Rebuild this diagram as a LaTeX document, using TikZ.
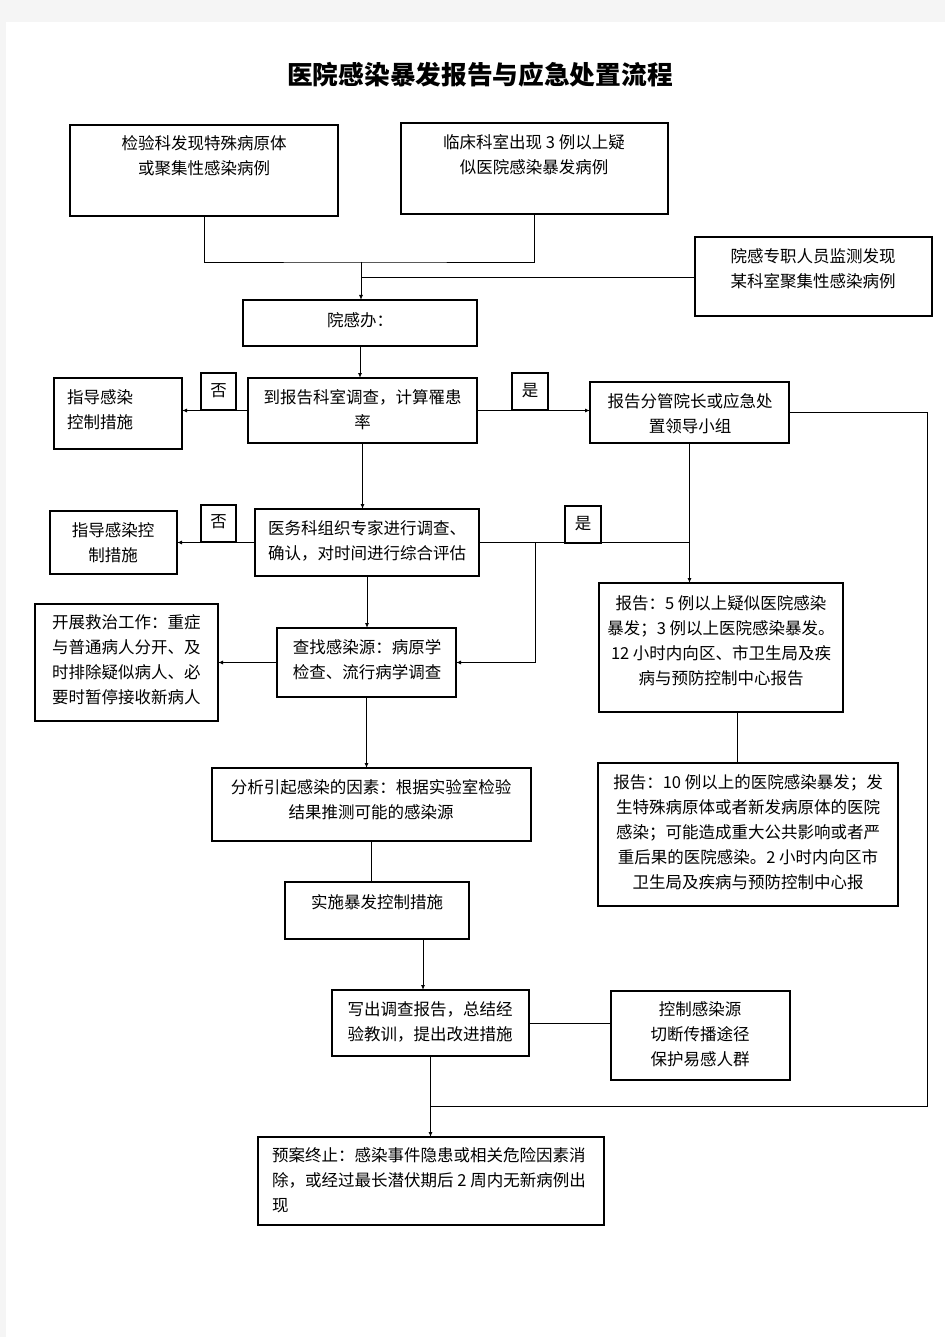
\documentclass[tikz,border=0pt]{standalone}
\usepackage{fontspec}
\setmainfont{Noto Sans CJK SC}
\usetikzlibrary{arrows.meta,fit}
\newcommand\mybox[3]{\node[box, fit={#2 #3}] (#1) {};}
\begin{document}
\begin{tikzpicture}[x=1pt,y=-1pt,
  box/.style={draw, line width=1.5pt, inner sep=0pt, outer sep=0pt},
  txt/.style={font=\fontsize{16.5}{25}\selectfont, inner sep=0pt, align=center},
  ltxt/.style={txt, align=left, anchor=west},
  con/.style={line width=0.9pt},
  arr/.style={con, -{Latex[length=5pt,width=4pt]}}]
\fill[gray!8] (0,0) rectangle (945,1337);
\fill[white] (6,22) rectangle (945,1337);
\useasboundingbox (0,0) rectangle (945,1337);

\node[font=\fontsize{25.7}{30}\selectfont\bfseries, inner sep=0pt] (title) at (480,75) {医院感染暴发报告与应急处置流程};

% boxes
\mybox{A}{(70,125)}{(338,216)}
\mybox{B}{(401,123)}{(668,214)}
\mybox{C}{(695,237)}{(932,316)}
\mybox{D}{(243,300)}{(477,346)}
\mybox{E}{(248,378)}{(477,443)}
\mybox{F}{(54,378)}{(182,449)}
\mybox{no1}{(201,373)}{(236,410)}
\mybox{yes1}{(512,373)}{(548,410)}
\mybox{G}{(590,382)}{(789,443)}
\mybox{H}{(255,509)}{(479,576)}
\mybox{no2}{(201,505)}{(236,542)}
\mybox{yes2}{(565,506)}{(601,543)}
\mybox{I}{(50,511)}{(177,574)}
\mybox{J}{(599,583)}{(843,712)}
\mybox{K}{(277,628)}{(456,697)}
\mybox{L}{(35,604)}{(218,721)}
\mybox{M}{(598,763)}{(898,906)}
\mybox{N}{(212,768)}{(531,841)}
\mybox{O}{(285,882)}{(469,939)}
\mybox{W}{(332,990)}{(529,1056)}
\mybox{X}{(611,991)}{(790,1080)}
\mybox{P}{(258,1137)}{(604,1225)}

% texts
\node[txt] (tA) at (204,155.5) {检验科发现特殊病原体\\或聚集性感染病例};
\node[txt] (tB) at (534,154.5) {临床科室出现 3 例以上疑\\似医院感染暴发病例};
\node[txt] (tC) at (813,268.5) {院感专职人员监测发现\\某科室聚集性感染病例};
\node[txt] (tD) at (360,320) {院感办：};
\node[txt] (tE) at (362.5,409.5) {到报告科室调查，计算罹患\\率};
\node[ltxt] (tF) at (67,409.5) {指导感染\\控制措施};
\node[txt] (tno1) at (218.5,391) {否};
\node[txt] (tyes1) at (530,391) {是};
\node[txt] (tG) at (690,413.5) {报告分管院长或应急处\\置领导小组};
\node[txt] (tH) at (367,541) {医务科组织专家进行调查、\\确认，对时间进行综合评估};
\node[txt] (tno2) at (218.5,522) {否};
\node[txt] (tyes2) at (583,524) {是};
\node[txt] (tI) at (113,542.5) {指导感染控\\制措施};
\node[txt] (tK) at (367,659.5) {查找感染源：病原学\\检查、流行病学调查};
\node[ltxt] (tL) at (52,659.5) {开展救治工作：重症\\与普通病人分开、及\\时排除疑似病人、必\\要时暂停接收新病人};
\node[txt] (tJ) at (721,641) {报告：5 例以上疑似医院感染\\暴发；3 例以上医院感染暴发。\\12 小时内向区、市卫生局及疾\\病与预防控制中心报告};
\node[txt] (tM) at (748,832) {报告：10 例以上的医院感染暴发；发\\生特殊病原体或者新发病原体的医院\\感染；可能造成重大公共影响或者严\\重后果的医院感染。2 小时内向区市\\卫生局及疾病与预防控制中心报};
\node[txt] (tN) at (371,799.5) {分析引起感染的因素：根据实验室检验\\结果推测可能的感染源};
\node[txt] (tO) at (377,902) {实施暴发控制措施};
\node[txt] (tW) at (430,1022) {写出调查报告，总结经\\验教训，提出改进措施};
\node[txt] (tX) at (700,1034.5) {控制感染源\\切断传播途径\\保护易感人群};
\node[ltxt] (tP) at (272,1180.5) {预案终止：感染事件隐患或相关危险因素消\\除，或经过最长潜伏期后 2 周内无新病例出\\现};

% connectors
\coordinate (j1) at (361,262);
\coordinate (j2) at (361,277);
\draw[con] (A.south) |- (j1) -| (B.south);
\draw[arr] (j1) -- (j1 |- D.north);
\draw[con] (j2) -- (j2 -| C.west);
\draw[arr] (D.south) -- (D.south |- E.north);
\draw[arr] (E.west) -- (E.west -| F.east);
\draw[arr] (E.east) -- (E.east -| G.west);
\draw[arr] (E.south) -- (E.south |- H.north);
\draw[arr] (H.west) -- (H.west -| I.east);
\path (H.east) -- ++(56,0) coordinate (j3);
\draw[con] (H.east) -- (H.east -| G.south);
\draw[arr] (G.south) -- (G.south |- J.north);
\draw[arr] (j3) |- (K.east);
\draw[arr] (H.south) -- (H.south |- K.north);
\draw[arr] (K.west) -- (K.west -| L.east);
\draw[con] ([xshift=16]J.south) -- ([xshift=16]J.south |- M.north);
\draw[arr] (K.south) -- (K.south |- N.north);
\draw[con] (N.south) -- (N.south |- O.north);
\draw[arr] ([xshift=46]O.south) -- ([xshift=46]O.south |- W.north);
\draw[con] (W.east) -- (W.east -| X.west);
\draw[arr] (W.south) -- (W.south |- P.north);
\path (W.south) -- ++(0,50) coordinate (j5);
\coordinate (r) at (927,1106);
\draw[con] (G.east) -| (r) -- (j5);
\end{tikzpicture}
\end{document}
